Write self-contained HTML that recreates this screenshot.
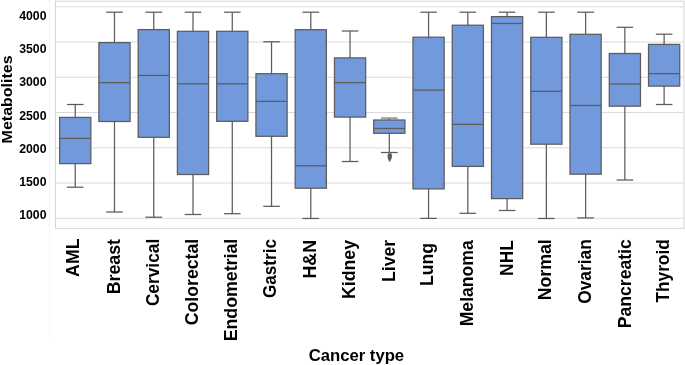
<!DOCTYPE html>
<html><head><meta charset="utf-8"><style>
html,body{margin:0;padding:0;background:#fff;}
body{width:685px;height:365px;overflow:hidden;}
svg{display:block;will-change:transform;}
text{font-family:"Liberation Sans",sans-serif;font-weight:bold;fill:#000;}
</style></head><body>
<svg width="685" height="365" viewBox="0 0 685 365">
<line x1="49.5" y1="0" x2="49.5" y2="339" stroke="#f6f6f6" stroke-width="1"/>
<rect x="55.5" y="1.2" width="628.4" height="227.1" fill="#fff" stroke="#d4d4d4" stroke-width="1"/>
<line x1="56" y1="6.8" x2="683.4" y2="6.8" stroke="#dadada" stroke-width="1"/>
<line x1="56" y1="42.05" x2="683.4" y2="42.05" stroke="#dadada" stroke-width="1"/>
<line x1="56" y1="77.3" x2="683.4" y2="77.3" stroke="#dadada" stroke-width="1"/>
<line x1="56" y1="112.55" x2="683.4" y2="112.55" stroke="#dadada" stroke-width="1"/>
<line x1="56" y1="147.8" x2="683.4" y2="147.8" stroke="#dadada" stroke-width="1"/>
<line x1="56" y1="183.05" x2="683.4" y2="183.05" stroke="#dadada" stroke-width="1"/>
<line x1="56" y1="218.3" x2="683.4" y2="218.3" stroke="#dadada" stroke-width="1"/>
<line x1="75.23" y1="104.5" x2="75.23" y2="117.4" stroke="#5c5c5c" stroke-width="1.25"/><line x1="75.23" y1="163.6" x2="75.23" y2="187.2" stroke="#5c5c5c" stroke-width="1.25"/><line x1="66.93" y1="104.5" x2="83.53" y2="104.5" stroke="#5c5c5c" stroke-width="1.25"/><line x1="66.93" y1="187.2" x2="83.53" y2="187.2" stroke="#5c5c5c" stroke-width="1.25"/><rect x="59.63" y="117.4" width="31.20" height="46.20" fill="#7299db" stroke="#5c5c5c" stroke-width="1.25"/><line x1="59.63" y1="138.4" x2="90.83" y2="138.4" stroke="#5c5c5c" stroke-width="1.25"/>
<line x1="114.49" y1="12.2" x2="114.49" y2="42.6" stroke="#5c5c5c" stroke-width="1.25"/><line x1="114.49" y1="121.5" x2="114.49" y2="212.0" stroke="#5c5c5c" stroke-width="1.25"/><line x1="106.19" y1="12.2" x2="122.79" y2="12.2" stroke="#5c5c5c" stroke-width="1.25"/><line x1="106.19" y1="212.0" x2="122.79" y2="212.0" stroke="#5c5c5c" stroke-width="1.25"/><rect x="98.89" y="42.6" width="31.20" height="78.90" fill="#7299db" stroke="#5c5c5c" stroke-width="1.25"/><line x1="98.89" y1="82.6" x2="130.09" y2="82.6" stroke="#5c5c5c" stroke-width="1.25"/>
<line x1="153.75" y1="12.2" x2="153.75" y2="29.6" stroke="#5c5c5c" stroke-width="1.25"/><line x1="153.75" y1="137.3" x2="153.75" y2="217.2" stroke="#5c5c5c" stroke-width="1.25"/><line x1="145.45" y1="12.2" x2="162.05" y2="12.2" stroke="#5c5c5c" stroke-width="1.25"/><line x1="145.45" y1="217.2" x2="162.05" y2="217.2" stroke="#5c5c5c" stroke-width="1.25"/><rect x="138.15" y="29.6" width="31.20" height="107.70" fill="#7299db" stroke="#5c5c5c" stroke-width="1.25"/><line x1="138.15" y1="75.5" x2="169.35" y2="75.5" stroke="#5c5c5c" stroke-width="1.25"/>
<line x1="193.01" y1="12.2" x2="193.01" y2="31.3" stroke="#5c5c5c" stroke-width="1.25"/><line x1="193.01" y1="174.5" x2="193.01" y2="214.5" stroke="#5c5c5c" stroke-width="1.25"/><line x1="184.71" y1="12.2" x2="201.31" y2="12.2" stroke="#5c5c5c" stroke-width="1.25"/><line x1="184.71" y1="214.5" x2="201.31" y2="214.5" stroke="#5c5c5c" stroke-width="1.25"/><rect x="177.41" y="31.3" width="31.20" height="143.20" fill="#7299db" stroke="#5c5c5c" stroke-width="1.25"/><line x1="177.41" y1="83.8" x2="208.61" y2="83.8" stroke="#5c5c5c" stroke-width="1.25"/>
<line x1="232.27" y1="12.2" x2="232.27" y2="31.3" stroke="#5c5c5c" stroke-width="1.25"/><line x1="232.27" y1="121.3" x2="232.27" y2="213.7" stroke="#5c5c5c" stroke-width="1.25"/><line x1="223.97" y1="12.2" x2="240.57" y2="12.2" stroke="#5c5c5c" stroke-width="1.25"/><line x1="223.97" y1="213.7" x2="240.57" y2="213.7" stroke="#5c5c5c" stroke-width="1.25"/><rect x="216.67" y="31.3" width="31.20" height="90.00" fill="#7299db" stroke="#5c5c5c" stroke-width="1.25"/><line x1="216.67" y1="83.8" x2="247.87" y2="83.8" stroke="#5c5c5c" stroke-width="1.25"/>
<line x1="271.53" y1="41.8" x2="271.53" y2="73.7" stroke="#5c5c5c" stroke-width="1.25"/><line x1="271.53" y1="136.3" x2="271.53" y2="206.3" stroke="#5c5c5c" stroke-width="1.25"/><line x1="263.23" y1="41.8" x2="279.83" y2="41.8" stroke="#5c5c5c" stroke-width="1.25"/><line x1="263.23" y1="206.3" x2="279.83" y2="206.3" stroke="#5c5c5c" stroke-width="1.25"/><rect x="255.93" y="73.7" width="31.20" height="62.60" fill="#7299db" stroke="#5c5c5c" stroke-width="1.25"/><line x1="255.93" y1="101.3" x2="287.13" y2="101.3" stroke="#5c5c5c" stroke-width="1.25"/>
<line x1="310.79" y1="12.2" x2="310.79" y2="29.7" stroke="#5c5c5c" stroke-width="1.25"/><line x1="310.79" y1="188.2" x2="310.79" y2="218.5" stroke="#5c5c5c" stroke-width="1.25"/><line x1="302.49" y1="12.2" x2="319.09" y2="12.2" stroke="#5c5c5c" stroke-width="1.25"/><line x1="302.49" y1="218.5" x2="319.09" y2="218.5" stroke="#5c5c5c" stroke-width="1.25"/><rect x="295.19" y="29.7" width="31.20" height="158.50" fill="#7299db" stroke="#5c5c5c" stroke-width="1.25"/><line x1="295.19" y1="165.8" x2="326.39" y2="165.8" stroke="#5c5c5c" stroke-width="1.25"/>
<line x1="350.05" y1="31.0" x2="350.05" y2="57.9" stroke="#5c5c5c" stroke-width="1.25"/><line x1="350.05" y1="117.1" x2="350.05" y2="161.5" stroke="#5c5c5c" stroke-width="1.25"/><line x1="341.75" y1="31.0" x2="358.35" y2="31.0" stroke="#5c5c5c" stroke-width="1.25"/><line x1="341.75" y1="161.5" x2="358.35" y2="161.5" stroke="#5c5c5c" stroke-width="1.25"/><rect x="334.45" y="57.9" width="31.20" height="59.20" fill="#7299db" stroke="#5c5c5c" stroke-width="1.25"/><line x1="334.45" y1="82.6" x2="365.65" y2="82.6" stroke="#5c5c5c" stroke-width="1.25"/>
<line x1="389.31" y1="118.2" x2="389.31" y2="120.0" stroke="#5c5c5c" stroke-width="1.25"/><line x1="389.31" y1="133.3" x2="389.31" y2="152.5" stroke="#5c5c5c" stroke-width="1.25"/><rect x="381.01" y="117.15" width="16.60" height="2" fill="#a2a2a2"/><line x1="381.01" y1="152.5" x2="397.61" y2="152.5" stroke="#5c5c5c" stroke-width="1.25"/><rect x="373.71" y="120.0" width="31.20" height="13.30" fill="#7299db" stroke="#5c5c5c" stroke-width="1.25"/><line x1="373.71" y1="128.5" x2="404.91" y2="128.5" stroke="#5c5c5c" stroke-width="1.25"/>
<line x1="428.57" y1="12.2" x2="428.57" y2="37.2" stroke="#5c5c5c" stroke-width="1.25"/><line x1="428.57" y1="188.9" x2="428.57" y2="218.4" stroke="#5c5c5c" stroke-width="1.25"/><line x1="420.27" y1="12.2" x2="436.87" y2="12.2" stroke="#5c5c5c" stroke-width="1.25"/><line x1="420.27" y1="218.4" x2="436.87" y2="218.4" stroke="#5c5c5c" stroke-width="1.25"/><rect x="412.97" y="37.2" width="31.20" height="151.70" fill="#7299db" stroke="#5c5c5c" stroke-width="1.25"/><line x1="412.97" y1="90.2" x2="444.17" y2="90.2" stroke="#5c5c5c" stroke-width="1.25"/>
<line x1="467.83" y1="12.2" x2="467.83" y2="25.2" stroke="#5c5c5c" stroke-width="1.25"/><line x1="467.83" y1="166.4" x2="467.83" y2="213.3" stroke="#5c5c5c" stroke-width="1.25"/><line x1="459.53" y1="12.2" x2="476.13" y2="12.2" stroke="#5c5c5c" stroke-width="1.25"/><line x1="459.53" y1="213.3" x2="476.13" y2="213.3" stroke="#5c5c5c" stroke-width="1.25"/><rect x="452.23" y="25.2" width="31.20" height="141.20" fill="#7299db" stroke="#5c5c5c" stroke-width="1.25"/><line x1="452.23" y1="124.4" x2="483.43" y2="124.4" stroke="#5c5c5c" stroke-width="1.25"/>
<line x1="507.09" y1="12.2" x2="507.09" y2="16.6" stroke="#5c5c5c" stroke-width="1.25"/><line x1="507.09" y1="198.6" x2="507.09" y2="210.5" stroke="#5c5c5c" stroke-width="1.25"/><line x1="498.79" y1="12.2" x2="515.39" y2="12.2" stroke="#5c5c5c" stroke-width="1.25"/><line x1="498.79" y1="210.5" x2="515.39" y2="210.5" stroke="#5c5c5c" stroke-width="1.25"/><rect x="491.49" y="16.6" width="31.20" height="182.00" fill="#7299db" stroke="#5c5c5c" stroke-width="1.25"/><line x1="491.49" y1="23.5" x2="522.69" y2="23.5" stroke="#5c5c5c" stroke-width="1.25"/>
<line x1="546.35" y1="12.2" x2="546.35" y2="37.3" stroke="#5c5c5c" stroke-width="1.25"/><line x1="546.35" y1="144.2" x2="546.35" y2="218.5" stroke="#5c5c5c" stroke-width="1.25"/><line x1="538.05" y1="12.2" x2="554.65" y2="12.2" stroke="#5c5c5c" stroke-width="1.25"/><line x1="538.05" y1="218.5" x2="554.65" y2="218.5" stroke="#5c5c5c" stroke-width="1.25"/><rect x="530.75" y="37.3" width="31.20" height="106.90" fill="#7299db" stroke="#5c5c5c" stroke-width="1.25"/><line x1="530.75" y1="91.4" x2="561.95" y2="91.4" stroke="#5c5c5c" stroke-width="1.25"/>
<line x1="585.61" y1="12.2" x2="585.61" y2="34.3" stroke="#5c5c5c" stroke-width="1.25"/><line x1="585.61" y1="174.2" x2="585.61" y2="217.9" stroke="#5c5c5c" stroke-width="1.25"/><line x1="577.31" y1="12.2" x2="593.91" y2="12.2" stroke="#5c5c5c" stroke-width="1.25"/><line x1="577.31" y1="217.9" x2="593.91" y2="217.9" stroke="#5c5c5c" stroke-width="1.25"/><rect x="570.01" y="34.3" width="31.20" height="139.90" fill="#7299db" stroke="#5c5c5c" stroke-width="1.25"/><line x1="570.01" y1="105.5" x2="601.21" y2="105.5" stroke="#5c5c5c" stroke-width="1.25"/>
<line x1="624.87" y1="27.3" x2="624.87" y2="53.5" stroke="#5c5c5c" stroke-width="1.25"/><line x1="624.87" y1="106.2" x2="624.87" y2="180.0" stroke="#5c5c5c" stroke-width="1.25"/><line x1="616.57" y1="27.3" x2="633.17" y2="27.3" stroke="#5c5c5c" stroke-width="1.25"/><line x1="616.57" y1="180.0" x2="633.17" y2="180.0" stroke="#5c5c5c" stroke-width="1.25"/><rect x="609.27" y="53.5" width="31.20" height="52.70" fill="#7299db" stroke="#5c5c5c" stroke-width="1.25"/><line x1="609.27" y1="84.0" x2="640.47" y2="84.0" stroke="#5c5c5c" stroke-width="1.25"/>
<line x1="664.13" y1="34.2" x2="664.13" y2="44.4" stroke="#5c5c5c" stroke-width="1.25"/><line x1="664.13" y1="86.1" x2="664.13" y2="104.5" stroke="#5c5c5c" stroke-width="1.25"/><line x1="655.83" y1="34.2" x2="672.43" y2="34.2" stroke="#5c5c5c" stroke-width="1.25"/><line x1="655.83" y1="104.5" x2="672.43" y2="104.5" stroke="#5c5c5c" stroke-width="1.25"/><rect x="648.53" y="44.4" width="31.20" height="41.70" fill="#7299db" stroke="#5c5c5c" stroke-width="1.25"/><line x1="648.53" y1="73.6" x2="679.73" y2="73.6" stroke="#5c5c5c" stroke-width="1.25"/>
<path d="M388.4,153.3 C387.1,155 387.2,158.6 389.6,162.1 C392.3,158.6 392.5,155 391.2,153.3 Z" fill="#5c5c5c"/>
<text x="46.5" y="20.05" font-size="12.3" text-anchor="end">4000</text>
<text x="46.5" y="53.30" font-size="12.3" text-anchor="end">3500</text>
<text x="46.5" y="86.40" font-size="12.3" text-anchor="end">3000</text>
<text x="46.5" y="119.70" font-size="12.3" text-anchor="end">2500</text>
<text x="46.5" y="152.90" font-size="12.3" text-anchor="end">2000</text>
<text x="46.5" y="186.00" font-size="12.3" text-anchor="end">1500</text>
<text x="46.5" y="219.00" font-size="12.3" text-anchor="end">1000</text>
<text transform="translate(12.1,99.4) rotate(-90)" font-size="15.2" text-anchor="middle" textLength="88" lengthAdjust="spacingAndGlyphs">Metabolites</text>
<text transform="translate(79.13,238.4) rotate(-90) scale(1.0,1)" font-size="17.8" text-anchor="end">AML</text>
<text transform="translate(120.09,239) rotate(-90) scale(1.0,1)" font-size="17.8" text-anchor="end">Breast</text>
<text transform="translate(159.05,238.8) rotate(-90) scale(0.972,1)" font-size="17.8" text-anchor="end">Cervical</text>
<text transform="translate(197.61,238.8) rotate(-90) scale(0.994,1)" font-size="17.8" text-anchor="end">Colorectal</text>
<text transform="translate(237.37,238.8) rotate(-90) scale(0.998,1)" font-size="17.8" text-anchor="end">Endometrial</text>
<text transform="translate(276.03,239) rotate(-90) scale(0.962,1)" font-size="17.8" text-anchor="end">Gastric</text>
<text transform="translate(316.39,240) rotate(-90) scale(1.0,1)" font-size="17.8" text-anchor="end">H&amp;N</text>
<text transform="translate(355.05,240) rotate(-90) scale(0.995,1)" font-size="17.8" text-anchor="end">Kidney</text>
<text transform="translate(394.91,240) rotate(-90) scale(0.985,1)" font-size="17.8" text-anchor="end">Liver</text>
<text transform="translate(432.67,243) rotate(-90) scale(0.988,1)" font-size="17.8" text-anchor="end">Lung</text>
<text transform="translate(473.23,240.2) rotate(-90) scale(0.99,1)" font-size="17.8" text-anchor="end">Melanoma</text>
<text transform="translate(512.69,240.2) rotate(-90) scale(0.977,1)" font-size="17.8" text-anchor="end">NHL</text>
<text transform="translate(551.45,239.2) rotate(-90) scale(0.997,1)" font-size="17.8" text-anchor="end">Normal</text>
<text transform="translate(591.01,239.2) rotate(-90) scale(0.975,1)" font-size="17.8" text-anchor="end">Ovarian</text>
<text transform="translate(630.87,239.2) rotate(-90) scale(0.989,1)" font-size="17.8" text-anchor="end">Pancreatic</text>
<text transform="translate(669.33,239.2) rotate(-90) scale(0.972,1)" font-size="17.8" text-anchor="end">Thyroid</text>
<text x="356.4" y="361" font-size="17.4" text-anchor="middle" textLength="95.5" lengthAdjust="spacingAndGlyphs">Cancer type</text>
</svg>
</body></html>
